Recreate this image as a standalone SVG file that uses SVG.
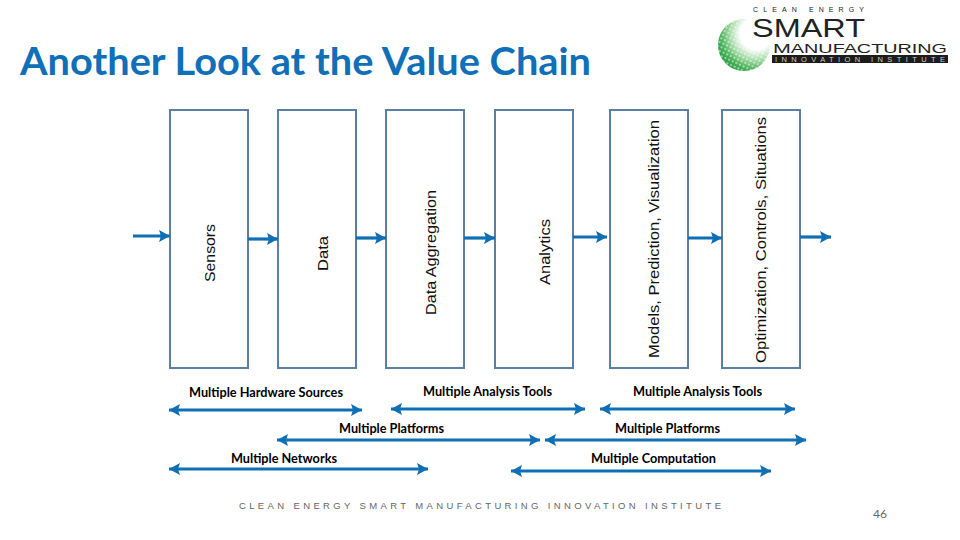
<svg xmlns="http://www.w3.org/2000/svg" width="960" height="540" viewBox="0 0 960 540">
<style>
.box{fill:#fff;stroke:#5b7ea4;stroke-width:2}
.lab{font-family:"Liberation Sans",Arial,sans-serif;font-size:15px;fill:#111}
.cap{font-family:Lato,"Open Sans",sans-serif;font-size:13px;font-weight:700;fill:#000}
.arr{stroke:#0f6fb4;stroke-width:3.2;fill:none;marker-end:url(#h)}
.dbl{stroke:#0f6fb4;stroke-width:3.2;fill:none;marker-end:url(#h);marker-start:url(#h)}
.lg{font-family:"Liberation Sans",Arial,sans-serif;fill:#222}
</style>
<defs>
<marker id="h" markerUnits="userSpaceOnUse" markerWidth="12" markerHeight="14" refX="11" refY="6" orient="auto-start-reverse" viewBox="0 0 12 12"><path d="M0 0L11 6L0 12L2 6Z" fill="#0f6fb4"/></marker>
<radialGradient id="g" cx="0.74" cy="0.28" r="0.85"><stop offset="0" stop-color="#fff"/><stop offset="0.36" stop-color="#fff"/><stop offset="0.62" stop-color="#9fd8a0"/><stop offset="0.82" stop-color="#45b055"/><stop offset="1" stop-color="#2a9a48"/></radialGradient>
<pattern id="dots" width="4" height="4" patternUnits="userSpaceOnUse" patternTransform="rotate(25)"><circle cx="2" cy="2" r="1" fill="#fff" fill-opacity="0.65"/></pattern>
</defs>
<rect width="960" height="540" fill="#fff"/>
<text id="title" x="20" y="75" font-family="Lato,'Open Sans',sans-serif" font-size="38" font-weight="700" fill="#0f6fb8" textLength="571" lengthAdjust="spacingAndGlyphs">Another Look at the Value Chain</text>
<g id="logo">
<circle cx="744" cy="45" r="26" fill="url(#g)"/>
<circle cx="744" cy="45" r="26" fill="url(#dots)"/>
<text class="lg" x="753" y="12" font-size="7" textLength="111" lengthAdjust="spacing">CLEAN ENERGY</text>
<text class="lg" x="752" y="36.5" font-size="25" textLength="113" lengthAdjust="spacingAndGlyphs">SMART</text>
<text class="lg" x="773" y="53" font-size="12" textLength="174" lengthAdjust="spacingAndGlyphs"><tspan font-size="13">M</tspan>ANUFACTURING</text>
<rect x="772" y="55" width="176" height="8" fill="#1c1c1c"/>
<text x="775" y="62" font-family="'Liberation Sans',sans-serif" font-size="7.5" fill="#ccc" textLength="170" lengthAdjust="spacing">INNOVATION INSTITUTE</text>
</g>
<g id="n-sensors"><rect class="box" x="170" y="110" width="78" height="258"/><text class="lab" transform="translate(215 282) rotate(-90)" textLength="58" lengthAdjust="spacingAndGlyphs">Sensors</text></g>
<g id="n-data"><rect class="box" x="278" y="110" width="78" height="258"/><text class="lab" transform="translate(328 271) rotate(-90)" textLength="35" lengthAdjust="spacingAndGlyphs">Data</text></g>
<g id="n-aggregation"><rect class="box" x="386" y="110" width="78" height="258"/><text class="lab" transform="translate(436 315) rotate(-90)" textLength="125" lengthAdjust="spacingAndGlyphs">Data Aggregation</text></g>
<g id="n-analytics"><rect class="box" x="495" y="110" width="78" height="258"/><text class="lab" transform="translate(550 285) rotate(-90)" textLength="66" lengthAdjust="spacingAndGlyphs">Analytics</text></g>
<g id="n-models"><rect class="box" x="610" y="110" width="78" height="258"/><text class="lab" transform="translate(659 358) rotate(-90)" textLength="238" lengthAdjust="spacingAndGlyphs">Models, Prediction, Visualization</text></g>
<g id="n-optimization"><rect class="box" x="722" y="110" width="78" height="258"/><text class="lab" transform="translate(766 363) rotate(-90)" textLength="246" lengthAdjust="spacingAndGlyphs">Optimization, Controls, Situations</text></g>
<g id="connectors">
<path class="arr" d="M133 236H170"/>
<path class="arr" d="M248 239H278"/>
<path class="arr" d="M356 238H386"/>
<path class="arr" d="M464 238H495"/>
<path class="arr" d="M573 237H607"/>
<path class="arr" d="M688 238H722"/>
<path class="arr" d="M800 237H831"/>
<path class="dbl" d="M169 410H362"/>
<path class="dbl" d="M391 409H585"/>
<path class="dbl" d="M600 409H795"/>
<path class="dbl" d="M277 440H540"/>
<path class="dbl" d="M545 440H806"/>
<path class="dbl" d="M169 469H428"/>
<path class="dbl" d="M511 471H771"/>
</g>
<g id="captions">
<text class="cap" x="189" y="397" textLength="154" lengthAdjust="spacingAndGlyphs">Multiple Hardware Sources</text>
<text class="cap" x="423" y="396" textLength="129" lengthAdjust="spacingAndGlyphs">Multiple Analysis Tools</text>
<text class="cap" x="633" y="396" textLength="129" lengthAdjust="spacingAndGlyphs">Multiple Analysis Tools</text>
<text class="cap" x="339" y="433" textLength="105" lengthAdjust="spacingAndGlyphs">Multiple Platforms</text>
<text class="cap" x="615" y="433" textLength="105" lengthAdjust="spacingAndGlyphs">Multiple Platforms</text>
<text class="cap" x="231" y="463" textLength="106" lengthAdjust="spacingAndGlyphs">Multiple Networks</text>
<text class="cap" x="591" y="463" textLength="125" lengthAdjust="spacingAndGlyphs">Multiple Computation</text>
</g>
<text x="239" y="509" font-family="'Liberation Sans',sans-serif" font-size="9.5" fill="#666" textLength="482" lengthAdjust="spacing">CLEAN ENERGY SMART MANUFACTURING INNOVATION INSTITUTE</text>
<text x="880" y="518" font-family="Lato,sans-serif" font-size="12" fill="#666" text-anchor="middle">46</text>
</svg>
